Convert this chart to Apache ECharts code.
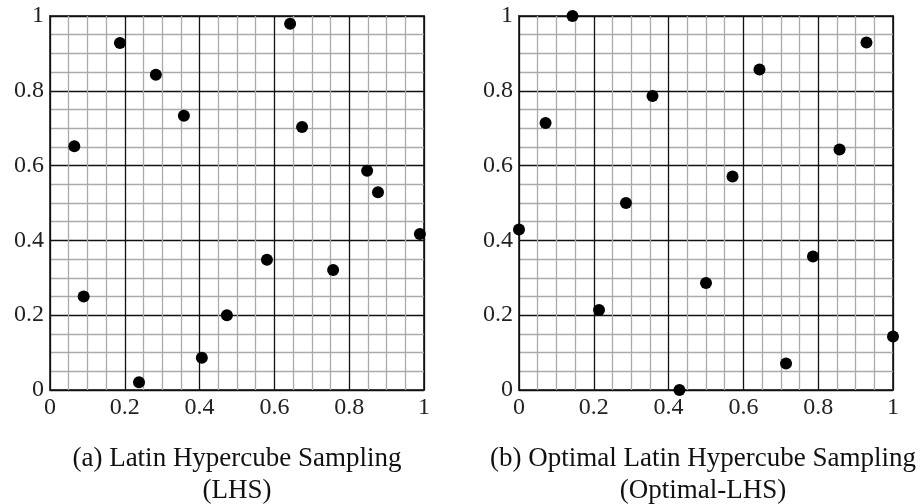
<!DOCTYPE html>
<html>
<head>
  <meta charset="utf-8">
  <title>LHS vs Optimal-LHS</title>
  <script src="https://cdn.jsdelivr.net/npm/echarts@6/dist/echarts.min.js"></script>
  <style>
    html, body { margin: 0; padding: 0; background: #fff; }
    #main { width: 921px; height: 504px; }
  </style>
</head>
<body>
  <div id="main"></div>
  <script>
    // sample points
    var lhsX = [0.065, 0.09, 0.187, 0.238, 0.283, 0.358, 0.406, 0.473, 0.58, 0.642, 0.674, 0.757, 0.848, 0.877, 0.989];
    var lhsY = [0.652, 0.25, 0.928, 0.021, 0.843, 0.733, 0.086, 0.2, 0.348, 0.979, 0.703, 0.321, 0.586, 0.529, 0.417];
    var optX = [0, 0.071, 0.143, 0.214, 0.286, 0.357, 0.429, 0.5, 0.571, 0.643, 0.714, 0.786, 0.857, 0.929, 1];
    var optY = [0.429, 0.714, 1, 0.214, 0.5, 0.786, 0, 0.286, 0.571, 0.857, 0.071, 0.357, 0.643, 0.929, 0.143];
    var titleA = '(a) Latin Hypercube Sampling\n(LHS)';
    var titleB = '(b) Optimal Latin Hypercube Sampling\n(Optimal-LHS)';

    var font = 'Liberation Serif';

    function zip(xs, ys) {
      var out = [];
      for (var i = 0; i < xs.length; i++) out.push([xs[i], ys[i]]);
      return out;
    }

    function axis(type, idx) {
      return {
        type: 'value',
        gridIndex: idx,
        min: 0,
        max: 1,
        interval: 0.2,
        axisLine: { show: false },
        axisTick: { show: false },
        axisLabel: {
          fontFamily: font,
          fontSize: 24,
          color: '#222',
          margin: 6,
          formatter: function (v) { return String(+v.toFixed(1)); }
        },
        splitLine: { show: true, lineStyle: { color: '#111', width: 1.3 } },
        minorTick: { show: false, splitNumber: 4 },
        minorSplitLine: { show: true, lineStyle: { color: '#aaa', width: 1.3 } }
      };
    }

    var chart = echarts.init(document.getElementById('main'));
    chart.setOption({
      animation: false,
      title: [{
        text: titleA, left: 232, top: 438, textAlign: 'center',
        textStyle: { fontFamily: font, fontSize: 27, fontWeight: 'normal', color: '#111', lineHeight: 32 }
      }, {
        text: titleB, left: 698, top: 438, textAlign: 'center',
        textStyle: { fontFamily: font, fontSize: 27, fontWeight: 'normal', color: '#111', lineHeight: 32 }
      }],
      grid: [
        { left: 50, top: 16, width: 374, height: 374, show: true, borderColor: '#444', borderWidth: 2, backgroundColor: 'transparent' },
        { left: 519, top: 16, width: 374, height: 374, show: true, borderColor: '#444', borderWidth: 2, backgroundColor: 'transparent' }
      ],
      xAxis: [axis('x', 0), axis('x', 1)],
      yAxis: [axis('y', 0), axis('y', 1)],
      series: [{
        type: 'scatter', xAxisIndex: 0, yAxisIndex: 0, clip: false,
        symbolSize: 12, itemStyle: { color: '#000', opacity: 1 },
        data: zip(lhsX, lhsY)
      }, {
        type: 'scatter', xAxisIndex: 1, yAxisIndex: 1, clip: false,
        symbolSize: 12, itemStyle: { color: '#000', opacity: 1 },
        data: zip(optX, optY)
      }]
    });
  </script>
</body>
</html>
